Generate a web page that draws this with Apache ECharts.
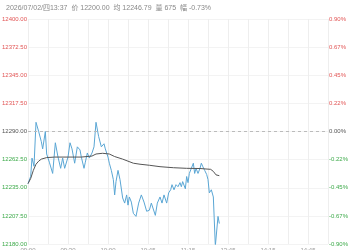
<!DOCTYPE html>
<html>
<head>
<meta charset="UTF-8">
<title>分时图</title>
<script src="https://cdn.jsdelivr.net/npm/echarts@6/dist/echarts.min.js"></script>
<style>
html,body{margin:0;padding:0;background:#fff;}
#main{width:350px;height:250px;}
</style>
</head>
<body>
<div id="main"></div>
<script type="text/javascript">
// 昨收 / 坐标范围
var preClose = 12290;
var yMin = 12180, yMax = 12400, yStep = 27.5;
var totalMin = 225;  // 9:00-10:15, 10:30-11:30, 13:30-15:00
var timeTicks = ['09:00','09:30','10:00','10:45','11:15','13:45','14:15','14:45'];

// 价格（分钟序号, 价格）
var priceMin = [0,2,3,4.5,6,8,10,11,13,14,16,18.5,20.5,22.5,24.5,26,27.5,30,31.5,33,35,37,39,40,42,43,44.5,46,48,49.5,51,53,55,57,58,60,61,62.5,64,65,66,67.5,69,71,72.5,74,75,76,77.5,79,81,83,85,87,89,91,92.5,94,95.5,97,99,100.5,102,104,105.5,107,108,109.5,111,112.5,114,115,116,118,119,120,121,122.5,124,125,126,127.5,129,130,131,132.5,134,135,136,137.5,139,140.5,142.5,143.5];
var priceVal = [12239,12246,12264,12256,12299,12290,12280,12273,12290,12268,12260,12249,12279,12265,12254,12264,12254,12265,12279,12273,12259,12275,12272,12265,12254,12260,12269,12264,12269,12275,12299,12285,12275,12278,12273,12265,12259,12252,12243,12228,12241,12252,12243,12225,12220,12228,12218,12226,12221,12210,12207,12220,12228,12221,12212,12213,12220,12221,12208,12220,12226,12220,12228,12220,12230,12233,12238,12233,12238,12236,12240,12236,12241,12234,12246,12240,12249,12254,12259,12249,12254,12249,12254,12259,12256,12252,12248,12243,12230,12233,12226,12178,12207,12200];

// 均价
var avgMin = [0,2,4,6,8,10,14,20,30,40,48,51,56,61,65,71,79,84,91,99,109,119,129,137,139,141,143.5];
var avgVal = [12239,12244,12252,12258,12261,12263,12264.5,12265,12265,12265,12266,12268,12268.7,12268,12265.5,12263,12259,12258,12257,12255.6,12254.6,12254,12253.8,12253,12251,12247.6,12246.8];

var red = '#e25555', green = '#3daa4a', gray = '#555';
function pairs(xs, ys){
	var out = [];
	for (var i = 0; i < xs.length; i++) { out.push([xs[i], ys[i]]); }
	return out;
}
function lvColor(v){
	if (Math.abs(v - preClose) < 0.001) return gray;
	return v > preClose ? red : green;
}

var myChart = echarts.init(document.getElementById('main'));
var option = {
	animation: false,
	title: {
		text: '2026/07/02/四13:37  价 12200.00  均 12246.79  量 675  幅 -0.73%',
		left: 1, top: 0,
		textStyle: {fontSize: 7, fontWeight: 'normal', color: '#888', fontFamily: 'Liberation Sans, Noto Sans CJK SC, sans-serif'}
	},
	grid: {left: 28, right: 22, top: 19, bottom: 6, containLabel: false, outerBoundsMode: 'none'},
	xAxis: {
		type: 'value', min: 0, max: totalMin, interval: 15,
		axisLine: {show: false}, axisTick: {show: false},
		splitLine: {show: true, lineStyle: {color: '#eeeeee', width: 1}},
		axisLabel: {
			fontSize: 6, color: '#999', margin: 3, fontFamily: 'Liberation Sans, sans-serif',
			formatter: function(v){ return (v % 30 === 0 && v / 30 < timeTicks.length) ? timeTicks[v / 30] : ''; }
		}
	},
	yAxis: [{
		type: 'value', min: yMin, max: yMax, interval: yStep,
		axisLine: {show: false}, axisTick: {show: false},
		splitLine: {show: true, lineStyle: {color: '#f3f3f3'}},
		axisLabel: {
			fontSize: 6, margin: 1, fontFamily: 'Liberation Sans, sans-serif',
			formatter: function(v){ return v.toFixed(2); },
			color: function(v){ return lvColor(Number(v)); }
		}
	}, {
		type: 'value', min: yMin, max: yMax, interval: yStep, position: 'right',
		axisLine: {show: false}, axisTick: {show: false}, splitLine: {show: false},
		axisLabel: {
			fontSize: 6, margin: 1, fontFamily: 'Liberation Sans, sans-serif',
			formatter: function(v){ return ((v - preClose) / preClose * 100).toFixed(2) + '%'; },
			color: function(v){ return lvColor(Number(v)); }
		}
	}],
	series: [{
		name: '价格', type: 'line', data: pairs(priceMin, priceVal),
		showSymbol: false, symbol: 'none', clip: true,
		lineStyle: {color: '#5aa6d4', width: 1},
		markLine: {
			silent: true, symbol: ['none','none'], label: {show: false},
			lineStyle: {color: '#bbb', type: [3,3], width: 1},
			data: [{yAxis: preClose}]
		}
	}, {
		name: '均价', type: 'line', data: pairs(avgMin, avgVal),
		showSymbol: false, symbol: 'none', smooth: false,
		lineStyle: {color: '#555', width: 1}
	}]
};
myChart.setOption(option);
</script>
</body>
</html>
